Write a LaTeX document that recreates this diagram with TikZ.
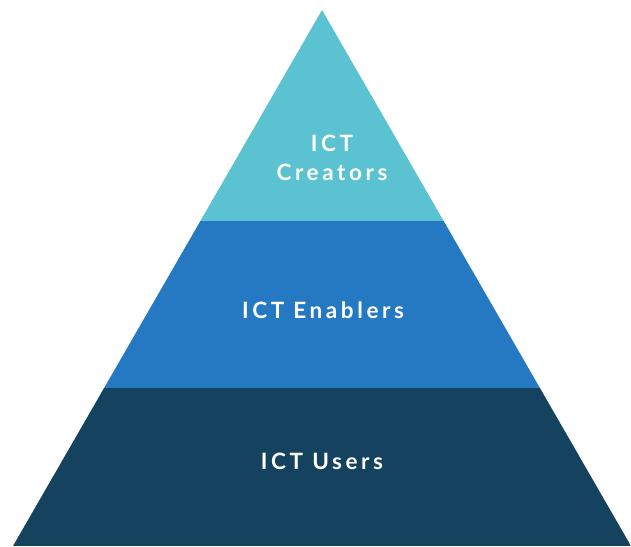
\documentclass[tikz,border=0pt]{standalone}
\usepackage{fontspec}
\setmainfont{Lato}[LetterSpace=16,BoldFont={Lato Bold}]
\def\pyramid{(13,546) -- (322,10) -- (631,546) -- cycle}
\definecolor{creators}{HTML}{5BC2D1}
\definecolor{enablers}{HTML}{2479C2}
\definecolor{users}{HTML}{15425F}
\tikzset{tierlabel/.style={text=white,font=\bfseries\fontsize{22.5}{29}\selectfont,align=center}}

\begin{document}
\begin{tikzpicture}[x=1pt,y=-1pt]
  \useasboundingbox (0,0) rectangle (631,546);
  \begin{scope}
    \clip \pyramid;
    \fill[creators] (0,0) rectangle (631,221);
    \fill[enablers] (0,221) rectangle (631,388);
    \fill[users] (0,388) rectangle (631,546);
  \end{scope}
  \node[tierlabel] (creators) at (332,158) {ICT\\Creators};
  \node[tierlabel] (enablers) at (323,310) {ICT Enablers};
  \node[tierlabel] (users) at (322,461) {ICT Users};
\end{tikzpicture}
\end{document}
